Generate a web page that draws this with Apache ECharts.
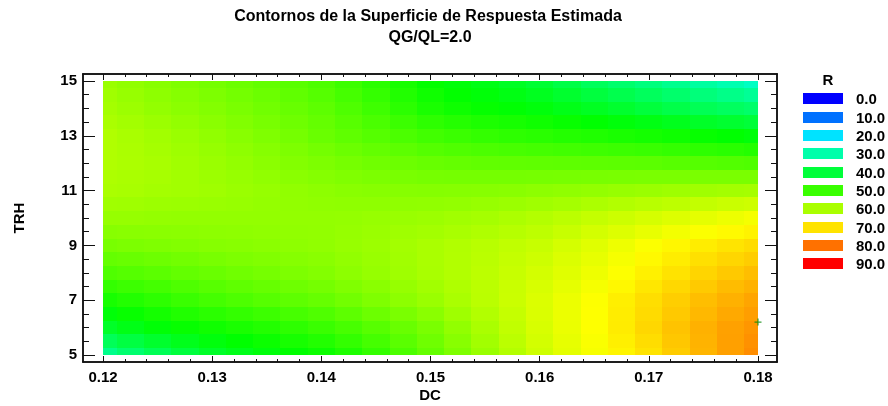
<!DOCTYPE html>
<html>
<head>
<meta charset="utf-8">
<script src="https://cdn.jsdelivr.net/npm/echarts@6/dist/echarts.min.js"></script>
<style>
  html, body { margin: 0; padding: 0; background: #ffffff; }
  #chart { width: 888px; height: 406px; }
</style>
</head>
<body>
<div id="chart"></div>
<script>
// Estimated response R over the DC x TRH plane (QG/QL fixed at 2.0)
const dcValues = [0.12, 0.1225, 0.125, 0.1275, 0.13, 0.1325, 0.135, 0.1375, 0.14, 0.1425,
  0.145, 0.1475, 0.15, 0.1525, 0.155, 0.1575, 0.16, 0.1625, 0.165, 0.1675,
  0.17, 0.1725, 0.175, 0.1775, 0.18];
const trhValues = [15, 14.5, 14, 13.5, 13, 12.5, 12, 11.5, 11, 10.5, 10,
  9.5, 9, 8.5, 8, 7.5, 7, 6.5, 6, 5.5, 5];
// one row per TRH value (same order as trhValues), one column per DC value
const rValues = [
  [58.6, 57.8, 57.0, 56.2, 55.3, 54.5, 53.7, 52.8, 51.8, 50.3, 48.7, 47.0, 45.3, 44.2, 43.2, 41.9, 40.6, 38.8, 37.0, 35.5, 34.0, 32.5, 30.9, 29.4, 27.8],
  [59.1, 58.3, 57.5, 56.8, 56.0, 55.2, 54.4, 53.5, 52.5, 51.1, 49.6, 47.9, 46.3, 45.2, 44.3, 43.3, 42.3, 40.9, 39.5, 38.2, 36.9, 35.6, 34.2, 33.0, 31.8],
  [59.5, 58.8, 58.0, 57.3, 56.6, 55.8, 55.0, 54.1, 53.2, 51.9, 50.5, 48.8, 47.2, 46.2, 45.4, 44.7, 44.0, 43.0, 42.0, 40.9, 39.7, 38.6, 37.5, 36.6, 35.7],
  [60.0, 59.4, 58.7, 58.0, 57.2, 56.4, 55.6, 54.7, 53.8, 52.7, 51.5, 50.2, 49.0, 48.2, 47.5, 46.9, 46.3, 45.6, 44.9, 44.1, 43.3, 42.4, 41.5, 40.8, 40.0],
  [60.5, 59.9, 59.3, 58.6, 57.8, 57.0, 56.2, 55.3, 54.3, 53.4, 52.5, 51.6, 50.7, 50.1, 49.5, 49.0, 48.6, 48.1, 47.7, 47.2, 46.8, 46.2, 45.5, 44.9, 44.2],
  [60.5, 60.1, 59.6, 58.9, 58.2, 57.5, 56.8, 56.0, 55.2, 54.4, 53.7, 53.1, 52.4, 52.0, 51.6, 51.3, 51.0, 50.7, 50.5, 50.2, 49.9, 49.5, 49.0, 48.6, 48.1],
  [60.5, 60.2, 59.8, 59.2, 58.6, 58.0, 57.3, 56.6, 56.0, 55.4, 54.9, 54.5, 54.1, 53.8, 53.6, 53.5, 53.4, 53.3, 53.2, 53.1, 53.0, 52.7, 52.5, 52.2, 52.0],
  [60.3, 60.0, 59.7, 59.3, 58.8, 58.3, 57.8, 57.2, 56.7, 56.3, 55.9, 55.7, 55.4, 55.3, 55.3, 55.3, 55.4, 55.5, 55.6, 55.7, 55.8, 55.8, 55.8, 55.8, 55.8],
  [60.0, 59.8, 59.5, 59.3, 59.0, 58.6, 58.2, 57.8, 57.4, 57.1, 56.9, 56.8, 56.7, 56.8, 56.9, 57.1, 57.4, 57.7, 58.0, 58.3, 58.6, 58.9, 59.1, 59.4, 59.6],
  [59.1, 59.0, 58.8, 58.7, 58.5, 58.3, 58.1, 57.9, 57.7, 57.6, 57.6, 57.7, 57.8, 58.0, 58.3, 58.7, 59.1, 59.6, 60.2, 60.7, 61.2, 61.7, 62.2, 62.7, 63.1],
  [58.2, 58.2, 58.1, 58.0, 58.0, 58.0, 58.0, 58.0, 58.0, 58.1, 58.3, 58.5, 58.8, 59.2, 59.6, 60.2, 60.8, 61.5, 62.3, 63.0, 63.8, 64.5, 65.2, 65.9, 66.6],
  [56.9, 57.1, 57.2, 57.3, 57.4, 57.5, 57.7, 57.8, 57.9, 58.2, 58.6, 59.0, 59.4, 59.9, 60.4, 61.1, 61.7, 62.6, 63.6, 64.5, 65.5, 66.4, 67.2, 67.9, 68.6],
  [55.6, 55.9, 56.2, 56.5, 56.8, 57.0, 57.3, 57.5, 57.8, 58.3, 58.8, 59.4, 60.0, 60.6, 61.2, 61.9, 62.6, 63.7, 64.8, 66.0, 67.2, 68.2, 69.1, 69.9, 70.6],
  [53.8, 54.2, 54.6, 55.1, 55.6, 56.0, 56.4, 56.8, 57.2, 57.9, 58.5, 59.2, 60.0, 60.7, 61.4, 62.3, 63.1, 64.3, 65.4, 66.7, 68.0, 69.1, 70.2, 71.1, 71.9],
  [52.0, 52.5, 53.0, 53.7, 54.3, 54.9, 55.4, 56.0, 56.6, 57.4, 58.2, 59.0, 59.9, 60.7, 61.6, 62.6, 63.6, 64.8, 66.0, 67.3, 68.7, 70.0, 71.2, 72.3, 73.2],
  [49.5, 50.3, 51.0, 51.9, 52.7, 53.4, 54.0, 54.7, 55.3, 56.3, 57.2, 58.2, 59.3, 60.4, 61.5, 62.7, 64.0, 65.3, 66.7, 68.1, 69.6, 70.9, 72.2, 73.4, 74.3],
  [47.0, 48.0, 49.0, 50.0, 51.0, 51.8, 52.6, 53.3, 54.0, 55.1, 56.2, 57.4, 58.6, 60.0, 61.4, 62.8, 64.3, 65.8, 67.3, 68.9, 70.4, 71.8, 73.2, 74.4, 75.4],
  [44.3, 45.6, 46.8, 47.8, 48.7, 49.5, 50.3, 51.2, 52.0, 53.2, 54.5, 55.8, 57.2, 59.0, 60.7, 62.4, 64.2, 65.8, 67.4, 69.1, 70.7, 72.3, 73.8, 75.1, 76.1],
  [41.5, 43.1, 44.5, 45.5, 46.3, 47.2, 48.0, 49.0, 50.0, 51.3, 52.7, 54.2, 55.8, 57.9, 60.0, 62.0, 64.0, 65.7, 67.4, 69.2, 71.0, 72.8, 74.4, 75.8, 76.8],
  [37.2, 39.2, 41.0, 42.6, 43.9, 45.0, 46.0, 47.0, 48.0, 49.5, 51.1, 52.9, 54.8, 57.0, 59.3, 61.5, 63.6, 65.4, 67.1, 68.8, 70.5, 72.4, 74.2, 75.9, 77.2],
  [32.8, 35.3, 37.5, 39.6, 41.5, 42.8, 44.0, 45.0, 46.0, 47.6, 49.5, 51.6, 53.8, 56.1, 58.5, 60.9, 63.2, 65.1, 66.8, 68.4, 70.0, 72.0, 74.0, 75.9, 77.6]
];
const optimumPoint = [0.18, 6.2];

const xTickLabels = [0.12, 0.13, 0.14, 0.15, 0.16, 0.17, 0.18];
const yTickLabels = [5, 7, 9, 11, 13, 15];
const legendLevels = [0, 10, 20, 30, 40, 50, 60, 70, 80, 90];
const legendColors = ['#0000ff', '#0071ff', '#00e3ff', '#00ffaa', '#00ff39',
  '#39ff00', '#aaff00', '#ffe300', '#ff7100', '#ff0000'];

const FONT = '"Liberation Sans", Arial, sans-serif';
const INK = '#111111';

// pixel boxes of the coloured surface and of the surrounding frame
const PLOT = { left: 103, top: 81, width: 655, height: 274 };
const FRAME = { left: 83, top: 74, width: 694, height: 288 };

const xLo = Math.min(...dcValues), xHi = Math.max(...dcValues);
const yLo = Math.min(...trhValues), yHi = Math.max(...trhValues);
const xPerPx = (xHi - xLo) / PLOT.width;
const yPerPx = (yHi - yLo) / PLOT.height;
const xMinF = xLo - (PLOT.left - FRAME.left) * xPerPx;
const xMaxF = xHi + (FRAME.left + FRAME.width - PLOT.left - PLOT.width) * xPerPx;
const yMinF = yLo - (FRAME.top + FRAME.height - PLOT.top - PLOT.height) * yPerPx;
const yMaxF = yHi + (PLOT.top - FRAME.top) * yPerPx;

// minor tick positions between the labelled ones
function minorBetween(majors, parts) {
  const out = [];
  for (let k = 0; k < majors.length - 1; k++) {
    const step = (majors[k + 1] - majors[k]) / parts;
    for (let m = 1; m < parts; m++) out.push(+(majors[k] + step * m).toFixed(6));
  }
  return out;
}
const xMinor = minorBetween(xTickLabels, 5);
const yMinor = minorBetween(yTickLabels, 4);

// each grid node owns the rectangle reaching halfway to its neighbours
function cellEdges(vals) {
  return vals.map((v, k) => {
    const a = k > 0 ? (v + vals[k - 1]) / 2 : v;
    const b = k < vals.length - 1 ? (v + vals[k + 1]) / 2 : v;
    return [Math.min(a, b), Math.max(a, b)];
  });
}
const xEdges = cellEdges(dcValues);
const yEdges = cellEdges(trhValues);

const cells = [];
trhValues.forEach((trh, j) => {
  dcValues.forEach((dc, i) => {
    cells.push([dc, trh, rValues[j][i], i, j]);
  });
});

const labelFont = { color: '#000', fontSize: 15, fontWeight: 'bold', fontFamily: FONT };

function frameX(position, ticks, len, labels) {
  return {
    gridIndex: 1, type: 'value', min: xMinF, max: xMaxF, position: position,
    axisLine: { show: true, onZero: false, lineStyle: { color: INK, width: 1.5 } },
    axisTick: { show: true, inside: true, length: len, customValues: ticks, lineStyle: { color: INK, width: 1 } },
    axisLabel: labels ? Object.assign({ show: true, customValues: xTickLabels, margin: 8,
      formatter: v => v.toFixed(2) }, labelFont) : { show: false },
    splitLine: { show: false }, minorTick: { show: false }, minorSplitLine: { show: false }
  };
}
function frameY(position, ticks, len, labels) {
  return {
    gridIndex: 1, type: 'value', min: yMinF, max: yMaxF, position: position,
    axisLine: { show: true, onZero: false, lineStyle: { color: INK, width: 1.5 } },
    axisTick: { show: true, inside: true, length: len, customValues: ticks, lineStyle: { color: INK, width: 1 } },
    axisLabel: labels ? Object.assign({ show: true, customValues: yTickLabels, margin: 6,
      formatter: v => String(v) }, labelFont) : { show: false },
    splitLine: { show: false }, minorTick: { show: false }, minorSplitLine: { show: false }
  };
}

// legend swatches
const legendItems = [];
legendItems.push({
  type: 'text', x: 828, y: 81,
  style: { text: 'R', align: 'center', verticalAlign: 'middle', fill: '#000',
    font: 'bold 15px ' + FONT }
});
legendLevels.forEach((lv, k) => {
  const top = Math.round(93.3 + k * 18.33);
  legendItems.push({
    type: 'rect', shape: { x: 803, y: top, width: 40, height: 11 },
    style: { fill: legendColors[k] }
  });
  legendItems.push({
    type: 'rect', shape: { x: 803, y: top, width: 1, height: 11 },
    style: { fill: legendColors[k], opacity: 0.6 }, z: 101
  });
  legendItems.push({
    type: 'text', x: 856, y: top + 6.5,
    style: { text: lv.toFixed(1), align: 'left', verticalAlign: 'middle', fill: '#000',
      font: 'bold 15px ' + FONT }
  });
});

const chart = echarts.init(document.getElementById('chart'), null, { renderer: 'canvas' });
chart.setOption({
  backgroundColor: '#ffffff',
  animation: false,
  grid: [
    Object.assign({ outerBoundsMode: 'none', containLabel: false }, PLOT),
    Object.assign({ outerBoundsMode: 'none', containLabel: false }, FRAME)
  ],
  xAxis: [
    { gridIndex: 0, type: 'value', min: xLo, max: xHi, show: false },
    frameX('bottom', xTickLabels, 6, true),
    frameX('bottom', xMinor, 3, false),
    frameX('top', xTickLabels, 6, false),
    frameX('top', xMinor, 3, false)
  ],
  yAxis: [
    { gridIndex: 0, type: 'value', min: yLo, max: yHi, show: false },
    frameY('left', yTickLabels, 12, true),
    frameY('left', yMinor, 6, false),
    frameY('right', yTickLabels, 12, false),
    frameY('right', yMinor, 6, false)
  ],
  visualMap: [{
    type: 'continuous', show: false, seriesIndex: 0, dimension: 2,
    min: 0, max: 90,
    inRange: { color: ['#0000ff', '#00ffff', '#00ff00', '#ffff00', '#ff0000'] }
  }],
  series: [
    {
      type: 'custom', xAxisIndex: 0, yAxisIndex: 0, silent: true,
      encode: { x: 0, y: 1 },
      data: cells,
      renderItem: function (params, api) {
        const i = api.value(3), j = api.value(4);
        const a = api.coord([xEdges[i][0], yEdges[j][0]]);
        const b = api.coord([xEdges[i][1], yEdges[j][1]]);
        const x0 = Math.round(Math.min(a[0], b[0])), x1 = Math.round(Math.max(a[0], b[0]));
        const y0 = Math.round(Math.min(a[1], b[1])), y1 = Math.round(Math.max(a[1], b[1]));
        return {
          type: 'rect',
          shape: { x: x0, y: y0, width: x1 - x0, height: y1 - y0 },
          style: { fill: api.visual('color') }
        };
      }
    },
    {
      type: 'scatter', xAxisIndex: 0, yAxisIndex: 0, silent: true, clip: false,
      data: [optimumPoint],
      symbol: 'path://M0,5L10,5M5,0L5,10',
      symbolSize: 7,
      itemStyle: { color: 'none', borderColor: '#0a8a0a', borderWidth: 1.2 },
      z: 5
    }
  ],
  graphic: [
    { type: 'text', x: 428, y: 17,
      style: { text: 'Contornos de la Superficie de Respuesta Estimada', align: 'center',
        verticalAlign: 'middle', fill: '#000', font: 'bold 16px ' + FONT } },
    { type: 'text', x: 430, y: 38,
      style: { text: 'QG/QL=2.0', align: 'center', verticalAlign: 'middle', fill: '#000',
        font: 'bold 16px ' + FONT } },
    { type: 'text', x: 430, y: 396,
      style: { text: 'DC', align: 'center', verticalAlign: 'middle', fill: '#000',
        font: 'bold 15px ' + FONT } },
    { type: 'text', x: 20, y: 218, rotation: Math.PI / 2,
      style: { text: 'TRH', align: 'center', verticalAlign: 'middle', fill: '#000',
        font: 'bold 15px ' + FONT } }
  ].concat(legendItems)
});
</script>
</body>
</html>
